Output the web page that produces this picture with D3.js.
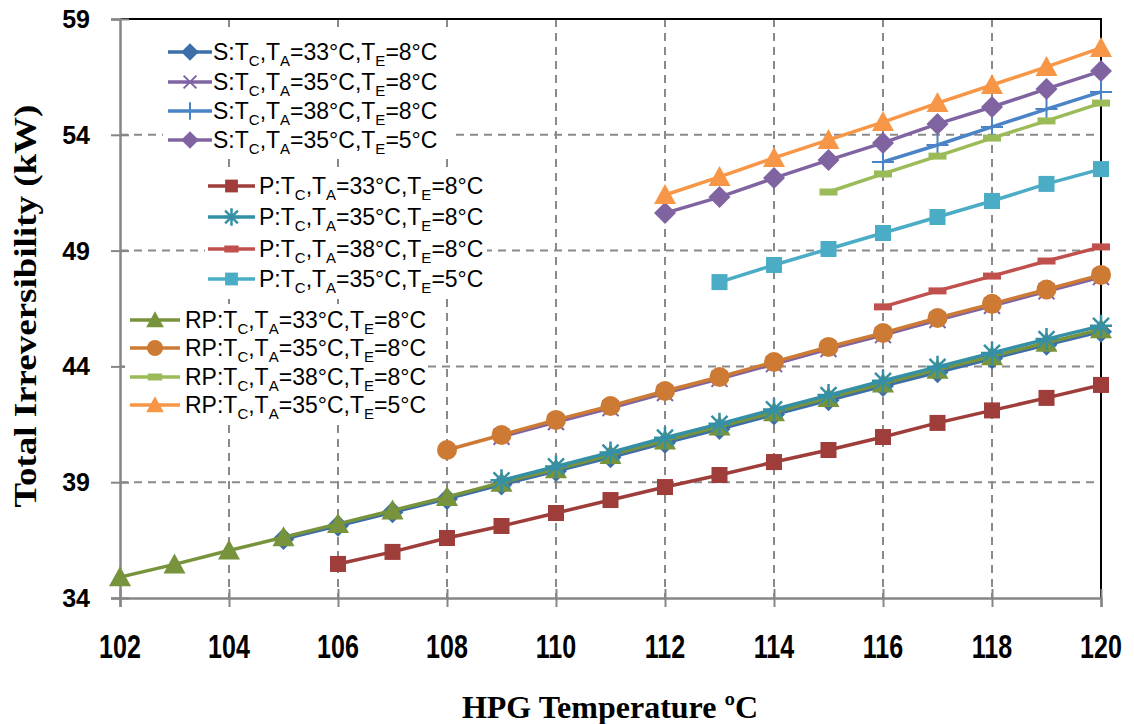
<!DOCTYPE html>
<html>
<head>
<meta charset="utf-8">
<script src="https://cdn.jsdelivr.net/npm/d3@7"></script>
<style>
  body { margin: 0; background: #fff; }
</style>
</head>
<body>
<svg id="chart" width="1134" height="724"></svg>
<script>
// tick labels
const xTicks = [102, 104, 106, 108, 110, 112, 114, 116, 118, 120];
const yTicks = [34, 39, 44, 49, 54, 59];

// S series (series)
const tS33_8 = [105, 106, 107, 108, 109, 110, 111, 112, 113, 114, 115, 116, 117, 118, 119, 120];
const vS33_8 = [36.55, 37.12, 37.70, 38.28, 38.90, 39.48, 40.08, 40.70, 41.30, 41.92, 42.54, 43.15, 43.75, 44.34, 44.93, 45.50];
const tS35_8 = [109, 110, 111, 112, 113, 114, 115, 116, 117, 118, 119, 120];
const vS35_8 = [40.96, 41.60, 42.20, 42.85, 43.46, 44.10, 44.75, 45.35, 46.00, 46.62, 47.24, 47.86];
const tS38_8 = [116, 117, 118, 119, 120];
const vS38_8 = [52.83, 53.56, 54.34, 55.11, 55.85];
const tS35_5 = [112, 113, 114, 115, 116, 117, 118, 119, 120];
const vS35_5 = [50.62, 51.31, 52.13, 52.91, 53.65, 54.47, 55.20, 55.98, 56.75];

// P series (parallel)
const tP33_8 = [106, 107, 108, 109, 110, 111, 112, 113, 114, 115, 116, 117, 118, 119, 120];
const vP33_8 = [35.47, 35.99, 36.59, 37.11, 37.67, 38.23, 38.79, 39.31, 39.87, 40.39, 40.95, 41.56, 42.10, 42.64, 43.20];
const tP35_8 = [109, 110, 111, 112, 113, 114, 115, 116, 117, 118, 119, 120];
const vP35_8 = [39.08, 39.68, 40.28, 40.92, 41.52, 42.14, 42.76, 43.38, 43.98, 44.58, 45.18, 45.75];
const tP38_8 = [116, 117, 118, 119, 120];
const vP38_8 = [46.57, 47.26, 47.90, 48.55, 49.16];
const tP35_5 = [113, 114, 115, 116, 117, 118, 119, 120];
const vP35_5 = [47.64, 48.38, 49.07, 49.76, 50.45, 51.14, 51.88, 52.52];

// RP series (reverse parallel)
const tRP33_8 = [102, 103, 104, 105, 106, 107, 108, 109, 110, 111, 112, 113, 114, 115, 116, 117, 118, 119, 120];
const vRP33_8 = [34.90, 35.45, 36.05, 36.62, 37.20, 37.78, 38.36, 38.98, 39.56, 40.17, 40.80, 41.40, 42.02, 42.64, 43.26, 43.86, 44.44, 45.02, 45.60];
const tRP35_8 = [108, 109, 110, 111, 112, 113, 114, 115, 116, 117, 118, 119, 120];
const vRP35_8 = [40.39, 41.04, 41.69, 42.29, 42.94, 43.54, 44.19, 44.84, 45.44, 46.09, 46.70, 47.32, 47.95];
const tRP38_8 = [115, 116, 117, 118, 119, 120];
const vRP38_8 = [51.53, 52.31, 53.08, 53.86, 54.60, 55.37];
const tRP35_5 = [112, 113, 114, 115, 116, 117, 118, 119, 120];
const vRP35_5 = [51.40, 52.18, 53.00, 53.78, 54.55, 55.37, 56.15, 56.93, 57.75];

const series = [
  { key: 'S33_8', pre: 'S', ta: '33', te: '8', t: tS33_8, v: vS33_8, color: '#3d6ea8', mk: 'diamond' },
  { key: 'S35_8', pre: 'S', ta: '35', te: '8', t: tS35_8, v: vS35_8, color: '#7f63a3', mk: 'xmark' },
  { key: 'S38_8', pre: 'S', ta: '38', te: '8', t: tS38_8, v: vS38_8, color: '#4a84c6', mk: 'plus' },
  { key: 'S35_5', pre: 'S', ta: '35', te: '5', t: tS35_5, v: vS35_5, color: '#8064a2', mk: 'diamond' },
  { key: 'P33_8', pre: 'P', ta: '33', te: '8', t: tP33_8, v: vP33_8, color: '#9e3d39', mk: 'square' },
  { key: 'P35_8', pre: 'P', ta: '35', te: '8', t: tP35_8, v: vP35_8, color: '#3590a6', mk: 'star' },
  { key: 'P38_8', pre: 'P', ta: '38', te: '8', t: tP38_8, v: vP38_8, color: '#c0504d', mk: 'dash' },
  { key: 'P35_5', pre: 'P', ta: '35', te: '5', t: tP35_5, v: vP35_5, color: '#4bacc6', mk: 'square' },
  { key: 'RP33_8', pre: 'RP', ta: '33', te: '8', t: tRP33_8, v: vRP33_8, color: '#77933c', mk: 'triangle' },
  { key: 'RP35_8', pre: 'RP', ta: '35', te: '8', t: tRP35_8, v: vRP35_8, color: '#cd7a34', mk: 'circle' },
  { key: 'RP38_8', pre: 'RP', ta: '38', te: '8', t: tRP38_8, v: vRP38_8, color: '#9bbb59', mk: 'dash' },
  { key: 'RP35_5', pre: 'RP', ta: '35', te: '5', t: tRP35_5, v: vRP35_5, color: '#f79646', mk: 'triangle' }
];
// stars sit over the green triangles in the picture
const drawOrder = ['S33_8', 'S35_8', 'S38_8', 'S35_5', 'P33_8', 'P38_8', 'P35_5', 'RP33_8', 'P35_8', 'RP35_8', 'RP38_8', 'RP35_5'];

const svg = d3.select('#chart');
const plotL = 120, plotR = 1101, plotT = 19, plotB = 598;

const x = d3.scaleLinear().domain([102, 120]).range([plotL, plotR]);
const y = d3.scaleLinear().domain([34, 59]).range([plotB, plotT]);

svg.append('rect').attr('width', 1134).attr('height', 724).attr('fill', '#fff');

// grid
const grid = svg.append('g').attr('stroke', '#8a8a8a').attr('stroke-width', 2).attr('stroke-dasharray', '8,6');
grid.selectAll('.vg').data(xTicks.slice(1, -1)).enter().append('line')
  .attr('x1', d => x(d)).attr('x2', d => x(d)).attr('y1', plotT).attr('y2', plotB);
grid.selectAll('.hg').data(yTicks.slice(1, -1)).enter().append('line')
  .attr('x1', plotL).attr('x2', plotR).attr('y1', d => y(d)).attr('y2', d => y(d));

// frame top + right (black)
svg.append('path').attr('d', `M${plotL},${plotT}H${plotR}V${plotB}`)
  .attr('fill', 'none').attr('stroke', '#000').attr('stroke-width', 2);

// axes
const xAxis = d3.axisBottom(x).tickValues(xTicks).tickSize(9).tickFormat('');
const gx = svg.append('g').attr('transform', `translate(0,${plotB})`).call(xAxis);
const yAxis = d3.axisLeft(y).tickValues(yTicks).tickSize(9).tickFormat('');
const gy = svg.append('g').attr('transform', `translate(${plotL},0)`).call(yAxis);
[gx, gy].forEach(g => {
  g.select('.domain').attr('stroke', '#868686').attr('stroke-width', 2.5);
  g.selectAll('.tick line').attr('stroke', '#868686').attr('stroke-width', 2);
});
gx.selectAll('.tick line').attr('y1', -9);
gy.selectAll('.tick line').attr('x1', 9);

// tick labels
svg.append('g').selectAll('text').data(xTicks).enter().append('text')
  .attr('transform', d => `translate(${x(d)},658) scale(0.76,1)`)
  .attr('text-anchor', 'middle')
  .style('font-family', 'Liberation Sans, Arial, sans-serif')
  .style('font-weight', 'bold').style('font-size', '33px')
  .text(d => d);
svg.append('g').selectAll('text').data(yTicks).enter().append('text')
  .attr('x', 90).attr('y', d => y(d) + 9)
  .attr('text-anchor', 'end')
  .style('font-family', 'Liberation Sans, Arial, sans-serif')
  .style('font-weight', 'bold').style('font-size', '25px')
  .text(d => d);

// axis titles
svg.append('text')
  .attr('x', 610).attr('y', 718).attr('text-anchor', 'middle')
  .style('font-family', 'Liberation Serif, Times New Roman, serif')
  .style('font-weight', 'bold').style('font-size', '32px')
  .text('HPG Temperature ºC');
svg.append('text')
  .attr('transform', 'translate(36,306) scale(0.88,1) rotate(-90)')
  .attr('text-anchor', 'middle')
  .style('font-family', 'Liberation Serif, Times New Roman, serif')
  .style('font-weight', 'bold').style('font-size', '37px')
  .text('Total Irreversibility (kW)');

function marker(g, type, color, s) {
  s = s || 1;
  if (type === 'diamond') {
    g.append('path').attr('d', `M0,${-11 * s}L${11 * s},0L0,${11 * s}L${-11 * s},0Z`).attr('fill', color);
  } else if (type === 'xmark') {
    g.append('path').attr('d', `M${-8 * s},${-8 * s}L${8 * s},${8 * s}M${-8 * s},${8 * s}L${8 * s},${-8 * s}`)
      .attr('stroke', color).attr('stroke-width', 2).attr('fill', 'none');
  } else if (type === 'plus') {
    g.append('path').attr('d', `M${-11 * s},0H${11 * s}M0,${-11 * s}V${11 * s}`)
      .attr('stroke', color).attr('stroke-width', 2).attr('fill', 'none');
  } else if (type === 'square') {
    g.append('rect').attr('x', -8 * s).attr('y', -8 * s).attr('width', 16 * s).attr('height', 16 * s).attr('fill', color);
  } else if (type === 'star') {
    g.append('path').attr('d', `M${-11 * s},0H${11 * s}M0,${-11 * s}V${11 * s}M${-8 * s},${-8 * s}L${8 * s},${8 * s}M${-8 * s},${8 * s}L${8 * s},${-8 * s}`)
      .attr('stroke', color).attr('stroke-width', 2.5).attr('fill', 'none');
  } else if (type === 'dash') {
    g.append('rect').attr('x', -9 * s).attr('y', -3.5).attr('width', 18 * s).attr('height', 7).attr('fill', color);
  } else if (type === 'triangle') {
    g.append('path').attr('d', `M0,${-11 * s}L${11 * s},${9 * s}L${-11 * s},${9 * s}Z`).attr('fill', color);
  } else if (type === 'circle') {
    g.append('circle').attr('r', 10 * s).attr('fill', color);
  }
}

// series
const line = d3.line().x(d => x(d[0])).y(d => y(d[1]));
const plot = svg.append('g');
drawOrder.forEach(k => {
  const s = series.find(d => d.key === k);
  const pts = s.t.map((t, i) => [t, s.v[i]]);
  const g = plot.append('g');
  g.append('path').datum(pts).attr('d', line)
    .attr('fill', 'none').attr('stroke', s.color).attr('stroke-width', 3.5).attr('stroke-linejoin', 'round');
  g.selectAll('.m').data(pts).enter().append('g')
    .attr('transform', d => `translate(${x(d[0])},${y(d[1])})`)
    .each(function () { marker(d3.select(this), s.mk, s.color); });
});

// legends (three boxes)
const legendBoxes = [
  { keys: ['S33_8', 'S35_8', 'S38_8', 'S35_5'], box: [163, 33, 290, 123], lx: [168, 212], tx: 213, ys: [52, 82, 111, 140] },
  { keys: ['P33_8', 'P35_8', 'P38_8', 'P35_5'], box: [205, 168, 282, 127], lx: [208, 255], tx: 259, ys: [186, 217, 249, 279] },
  { keys: ['RP33_8', 'RP35_8', 'RP38_8', 'RP35_5'], box: [125, 304, 300, 120], lx: [130, 180], tx: 185, ys: [320, 348, 377, 405] }
];
legendBoxes.forEach(L => {
  const lg = svg.append('g');
  lg.append('rect').attr('x', L.box[0]).attr('y', L.box[1]).attr('width', L.box[2]).attr('height', L.box[3]).attr('fill', '#fff');
  L.keys.forEach((k, i) => {
    const s = series.find(d => d.key === k);
    const yy = L.ys[i];
    lg.append('line').attr('x1', L.lx[0]).attr('x2', L.lx[1]).attr('y1', yy).attr('y2', yy)
      .attr('stroke', s.color).attr('stroke-width', 3.5);
    const mg = lg.append('g').attr('transform', `translate(${(L.lx[0] + L.lx[1]) / 2},${yy})`);
    marker(mg, s.mk, s.color, 0.8);
    const t = lg.append('text').attr('x', L.tx).attr('y', yy + 8)
      .style('font-family', 'Liberation Sans, Arial, sans-serif').style('font-size', '23px');
    t.append('tspan').text(s.pre + ':T');
    t.append('tspan').attr('dy', 6).style('font-size', '15px').text('C');
    t.append('tspan').attr('dy', -6).text(',T');
    t.append('tspan').attr('dy', 6).style('font-size', '15px').text('A');
    t.append('tspan').attr('dy', -6).text('=' + s.ta + '°C,T');
    t.append('tspan').attr('dy', 6).style('font-size', '15px').text('E');
    t.append('tspan').attr('dy', -6).text('=' + s.te + '°C');
  });
});
</script>
</body>
</html>
